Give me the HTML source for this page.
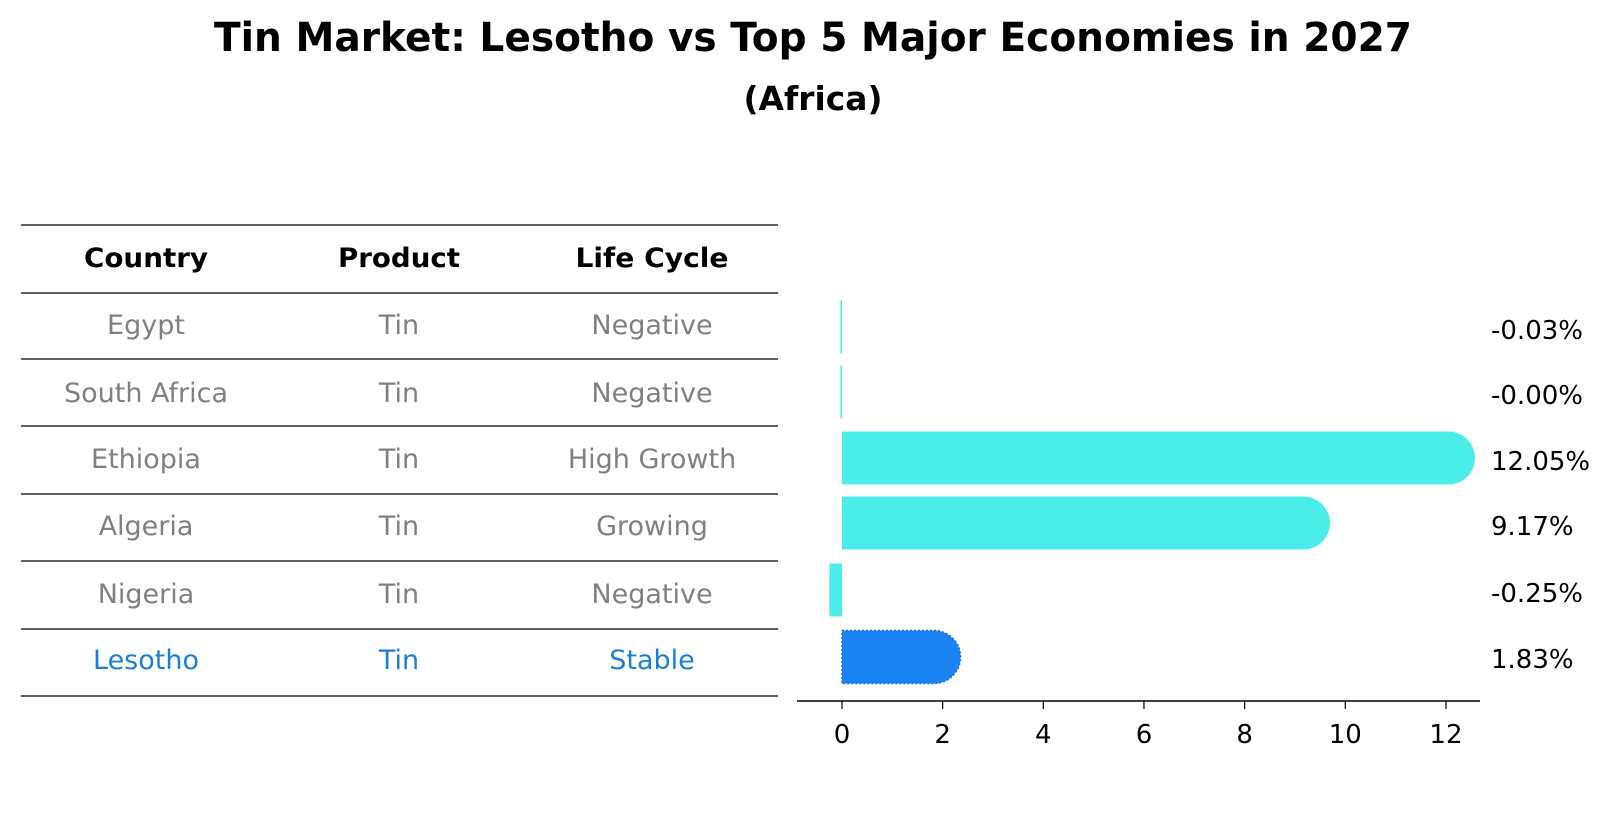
<!DOCTYPE html>
<html><head><meta charset="utf-8"><style>
body{margin:0;width:1604px;height:823px;background:#fff;position:relative;overflow:hidden}
svg text{font-family:"DejaVu Sans","Liberation Sans",sans-serif}
</style></head><body>
<svg id="s" width="1604" height="823" style="position:absolute;left:0;top:0"></svg>
<script>
const countries=["Egypt","South Africa","Ethiopia","Algeria","Nigeria","Lesotho"];
const products=["Tin","Tin","Tin","Tin","Tin","Tin"];
const lifecycle=["Negative","Negative","High Growth","Growing","Negative","Stable"];
const values=[-0.03,-0.00,12.05,9.17,-0.25,1.83];
const ticks=[0,2,4,6,8,10,12];
const NS="http://www.w3.org/2000/svg";
const s=document.getElementById('s');
function el(t,a,txt){const e=document.createElementNS(NS,t);for(const k in a)e.setAttribute(k,a[k]);if(txt!==undefined)e.textContent=txt;s.appendChild(e);return e;}
const x=v=>842+50.33*v;
const rowY=i=>326+66.6*i;
const title=el('text',{x:813,y:51,'text-anchor':'middle','font-size':40,'font-weight':'bold',textLength:1198,lengthAdjust:'spacingAndGlyphs'},'Tin Market: Lesotho vs Top 5 Major Economies in 2027');


const sub=el('text',{x:813,y:110,'text-anchor':'middle','font-size':33,'font-weight':'bold',textLength:139,lengthAdjust:'spacingAndGlyphs'},'(Africa)');


const lines=[225,293,359,426,494,561,629,696];
lines.forEach(y=>{const l=el('line',{x1:21,x2:778,y1:y,y2:y,stroke:'#000','stroke-width':1.2});

});
const cx=[146,399,652];
const hw=[124,122,153];
["Country","Product","Life Cycle"].forEach((h,j)=>{const t=el('text',{x:cx[j],y:267,'text-anchor':'middle','font-size':27,'font-weight':'bold',textLength:hw[j],lengthAdjust:'spacingAndGlyphs'},h);

});
const cw=t=>t.length*0;
countries.forEach((c,i)=>{
 const col=i===5?'#1a7fd6':'#808080';
 const ty=[324,392,458,525,593,659][i]+10;
 [c,products[i],lifecycle[i]].forEach((v,j)=>{const t=el('text',{x:cx[j],y:ty,'text-anchor':'middle','font-size':27,fill:col},v);
 
 });
 const v=values[i],h=53,cy=[327,392,458,523,590,657][i],y0=cy-h/2;
 const fill=i===5?'#1a84f5':'#4bede9';
 let b;
 if(v>0){const x0=x(0),x1=x(v),r=h/2;
  b=el('path',{d:`M${x0},${y0}H${x1}A${r},${r} 0 0 1 ${x1},${y0+h}H${x0}Z`,fill:fill});
  if(i===5){b.setAttribute('stroke','#1a6fd0');b.setAttribute('stroke-dasharray','2,2');b.setAttribute('stroke-width','1.5');}
 }else{const w=Math.max(Math.abs(x(v)-x(0)),1.5);
  b=el('rect',{x:x(0)-w,y:y0,width:w,height:h,fill:fill});}
 
 
 const lb=el('text',{x:1491,y:[329,394,460,525,592,658][i]+10,'font-size':26},(v<=0&&v>-0.005?'-0.00':v.toFixed(2))+'%');
 
 
});
const ax=el('line',{x1:797,x2:1480,y1:701,y2:701,stroke:'#000','stroke-width':1.5});


ticks.forEach(t=>{const l=el('line',{x1:x(t),x2:x(t),y1:701,y2:709,stroke:'#000','stroke-width':1.2});


const tx=el('text',{x:x(t),y:743,'text-anchor':'middle','font-size':26},t);

});
</script>
</body></html>
